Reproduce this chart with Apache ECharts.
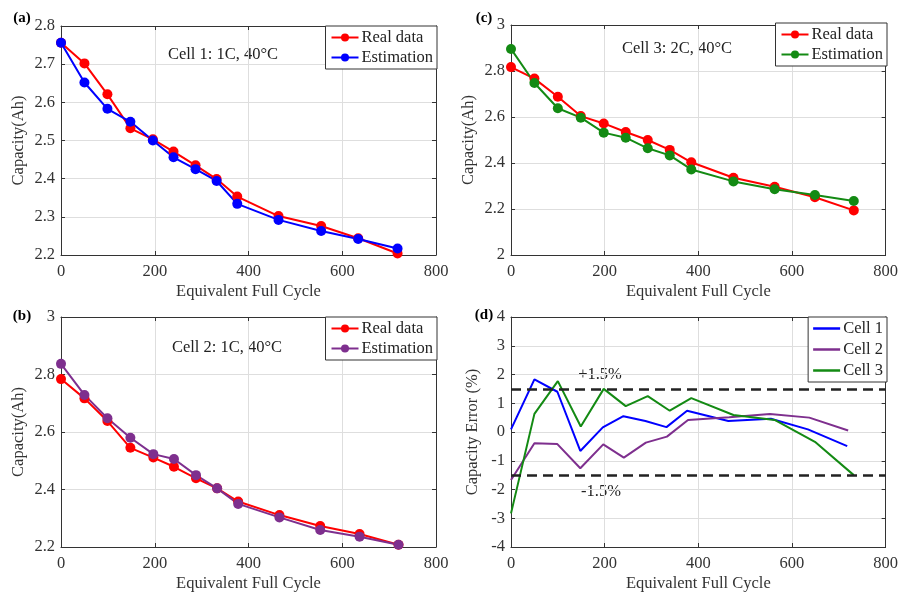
<!DOCTYPE html>
<html>
<head>
<meta charset="utf-8">
<script src="https://cdn.jsdelivr.net/npm/echarts@6/dist/echarts.min.js"></script>
<style>
  html, body { margin: 0; padding: 0; background: #fff; }
  #chart { width: 901px; height: 597px; }
</style>
</head>
<body>
<div id="chart"></div>
<script>
// Equivalent full cycles at each capacity check-up
const cycles1 = [0, 50, 99, 148, 196, 240, 287, 332, 376, 464, 555, 634, 718];
const cycles2 = [0, 50, 99, 148, 197, 241, 288, 333, 378, 466, 553, 637, 720];
const cycles3 = [0, 50, 100, 149, 198, 245, 292, 339, 385, 475, 563, 649, 732];

// Measured vs. estimated capacity (Ah)
const real1 = [2.756, 2.702, 2.621, 2.532, 2.503, 2.471, 2.435, 2.399, 2.353, 2.302, 2.276, 2.244, 2.204];
const est1  = [2.756, 2.652, 2.583, 2.549, 2.500, 2.456, 2.425, 2.394, 2.334, 2.292, 2.263, 2.242, 2.217];
const real2 = [2.784, 2.717, 2.638, 2.545, 2.511, 2.479, 2.439, 2.404, 2.358, 2.311, 2.273, 2.245, 2.208];
const est2  = [2.837, 2.729, 2.648, 2.580, 2.523, 2.506, 2.450, 2.404, 2.350, 2.303, 2.259, 2.236, 2.208];
const real3 = [2.817, 2.767, 2.688, 2.604, 2.572, 2.535, 2.500, 2.457, 2.403, 2.336, 2.297, 2.251, 2.194];
const est3  = [2.896, 2.748, 2.638, 2.597, 2.532, 2.510, 2.464, 2.433, 2.372, 2.320, 2.286, 2.261, 2.235];

// Capacity estimation error (%)
const err1 = [0.09, 1.83, 1.40, -0.66, 0.16, 0.55, 0.38, 0.17, 0.74, 0.38, 0.46, 0.09, -0.49];
const err2 = [-1.67, -0.39, -0.42, -1.26, -0.43, -0.89, -0.37, -0.16, 0.42, 0.51, 0.63, 0.50, 0.05];
const err3 = [-2.83, 0.63, 1.77, 0.19, 1.50, 0.90, 1.25, 0.74, 1.18, 0.59, 0.42, -0.34, -1.50];

// Error band limits (%)
const errorBand = [1.5, -1.5];
const errorBandLabels = ['+1.5%', '-1.5%'];

// Axis ranges: [min, max, interval]
const xRange = [0, 800, 200];
const yRangeA = [2.2, 2.8, 0.1];
const yRangeB = [2.2, 3, 0.2];
const yRangeC = [2, 3, 0.2];
const yRangeD = [-4, 4, 1];

const panelTags = ['(a)', '(c)', '(b)', '(d)'];
const cellNotes = ['Cell 1: 1C, 40\u00B0C', 'Cell 3: 2C, 40\u00B0C', 'Cell 2: 1C, 40\u00B0C'];
const xName = 'Equivalent Full Cycle';
const yNameCap = 'Capacity(Ah)';
const yNameErr = 'Capacity Error (%)';

const FONT = 'Liberation Serif';
const AXIS = '#333';
const RED = '#ff0000', BLUE = '#0000ff', GREEN = '#138a13', PURPLE = '#7e2f8e';

const zip = (xs, ys) => xs.map((x, i) => [x, ys[i]]);

// grids in order a, c, b, d
const grids = [
  { left: 61, top: 26, width: 375, height: 229 },
  { left: 511, top: 25, width: 375, height: 230 },
  { left: 61, top: 317, width: 375, height: 230 },
  { left: 511, top: 317, width: 375, height: 230 }
];
const yRanges = [yRangeA, yRangeC, yRangeB, yRangeD];
const yNames = [yNameCap, yNameCap, yNameCap, yNameErr];
const yGaps = [34, 34, 34, 30];

const xAxes = [], yAxes = [];
grids.forEach((g, i) => {
  const common = {
    type: 'value', gridIndex: i,
    axisLine: { show: true, onZero: false, lineStyle: { color: AXIS, width: 1 } },
    axisTick: { show: true, inside: true, length: 4, lineStyle: { color: AXIS } }
  };
  xAxes.push(Object.assign({}, common, {
    position: 'bottom', min: xRange[0], max: xRange[1], interval: xRange[2],
    name: xName, nameLocation: 'middle', nameGap: 28,
    nameTextStyle: { fontFamily: FONT, fontSize: 16.5, color: '#333' },
    axisLabel: { fontFamily: FONT, fontSize: 16.5, color: '#333', margin: 8 },
    splitLine: { show: true, lineStyle: { color: '#dedede', width: 1 } }
  }));
  xAxes.push(Object.assign({}, common, {
    position: 'top', min: xRange[0], max: xRange[1], interval: xRange[2],
    axisLabel: { show: false }, splitLine: { show: false }
  }));
  const yr = yRanges[i];
  yAxes.push(Object.assign({}, common, {
    position: 'left', min: yr[0], max: yr[1], interval: yr[2],
    name: yNames[i], nameLocation: 'middle', nameGap: yGaps[i],
    nameTextStyle: { fontFamily: FONT, fontSize: 16.5, color: '#333' },
    axisLabel: { fontFamily: FONT, fontSize: 16.5, color: '#333', margin: 6 },
    splitLine: { show: true, lineStyle: { color: '#dedede', width: 1 } }
  }));
  yAxes.push(Object.assign({}, common, {
    position: 'right', min: yr[0], max: yr[1], interval: yr[2],
    axisLabel: { show: false }, splitLine: { show: false }
  }));
});

function markerSeries(name, panel, xs, ys, color) {
  return {
    name: name, type: 'line', xAxisIndex: panel * 2, yAxisIndex: panel * 2,
    data: zip(xs, ys), symbol: 'circle', symbolSize: 10, showSymbol: true,
    lineStyle: { color: color, width: 2 }, itemStyle: { color: color },
    animation: false
  };
}
function errorSeries(name, xs, ys, color) {
  return {
    name: name, type: 'line', xAxisIndex: 6, yAxisIndex: 6,
    data: zip(xs, ys), symbol: 'none',
    lineStyle: { color: color, width: 2 }, itemStyle: { color: color },
    animation: false
  };
}

const series = [
  markerSeries('a|Real data', 0, cycles1, real1, RED),
  markerSeries('a|Estimation', 0, cycles1, est1, BLUE),
  markerSeries('c|Real data', 1, cycles3, real3, RED),
  markerSeries('c|Estimation', 1, cycles3, est3, GREEN),
  markerSeries('b|Real data', 2, cycles2, real2, RED),
  markerSeries('b|Estimation', 2, cycles2, est2, PURPLE),
  errorSeries('Cell 1', cycles1, err1, BLUE),
  errorSeries('Cell 2', cycles2, err2, PURPLE),
  errorSeries('Cell 3', cycles3, err3, GREEN)
];
// dashed error band on the error panel
series[6].markLine = {
  silent: true, symbol: 'none', animation: false,
  label: { show: false },
  lineStyle: { color: '#222', width: 2.5, type: [10, 6] },
  data: errorBand.map(v => ({ yAxis: v }))
};

function boxLegend(names, right, top, lineOnly) {
  const lg = {
    data: names, orient: 'vertical', right: right, top: top,
    backgroundColor: '#fff', borderColor: '#333', borderWidth: 1,
    padding: [3, 4, 3, 5], itemGap: 3, itemWidth: 27, itemHeight: 10,
    selectedMode: false,
    formatter: n => n.indexOf('|') >= 0 ? n.split('|')[1] : n,
    textStyle: { fontFamily: FONT, fontSize: 16.5, color: '#222', padding: [0, 0, 0, -2] }
  };
  if (lineOnly) {
    lg.data = names.map(n => ({ name: n, icon: 'rect' }));
    lg.itemHeight = 2.5;
    lg.itemGap = 4;
    lg.textStyle.height = 16;
    lg.textStyle.lineHeight = 16;
  }
  return lg;
}

const legends = [
  boxLegend(['a|Real data', 'a|Estimation'], 901 - 437, 26),
  boxLegend(['c|Real data', 'c|Estimation'], 901 - 887, 23),
  boxLegend(['b|Real data', 'b|Estimation'], 901 - 437, 317),
  boxLegend(['Cell 1', 'Cell 2', 'Cell 3'], 901 - 887, 317, true)
];

const txt = (s, x, y, extra) => ({
  type: 'text', x: x, y: y, silent: true,
  style: Object.assign({ text: s, font: '16.5px "' + FONT + '"', fill: '#222',
    textAlign: 'center', textVerticalAlign: 'middle' }, extra || {})
});
const tagFont = { font: 'bold 15px "' + FONT + '"', fill: '#000' };
const graphic = [
  txt(panelTags[0], 22, 18, tagFont),
  txt(panelTags[1], 484, 18, tagFont),
  txt(panelTags[2], 22, 316, tagFont),
  txt(panelTags[3], 484, 315, tagFont),
  txt(cellNotes[0], 223, 55),
  txt(cellNotes[1], 677, 49),
  txt(cellNotes[2], 227, 348),
  txt(errorBandLabels[0], 600, 375),
  txt(errorBandLabels[1], 601, 492)
];

const chart = echarts.init(document.getElementById('chart'), null, { renderer: 'canvas' });
chart.setOption({
  animation: false,
  backgroundColor: '#fff',
  grid: grids,
  xAxis: xAxes,
  yAxis: yAxes,
  legend: legends,
  series: series,
  graphic: graphic
});
</script>
</body>
</html>
